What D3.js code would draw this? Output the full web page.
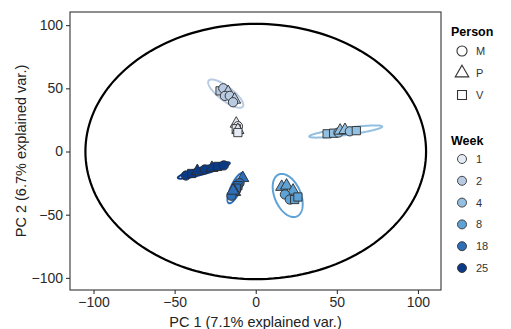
<!DOCTYPE html>
<html>
<head>
<meta charset="utf-8">
<script src="https://cdn.jsdelivr.net/npm/d3@7"></script>
<style>
  body { margin: 0; background: #fff; }
  svg { display: block; font-family: "Liberation Sans", Arial, sans-serif; }
</style>
</head>
<body>
<svg id="chart" width="511" height="329"></svg>
<script>
// tick labels
const xTicks = [-100, -50, 0, 50, 100];
const yTicks = [-100, -50, 0, 50, 100];

// legend categories
const persons = ['M', 'P', 'V'];
const weeks = ['1', '2', '4', '8', '18', '25'];
const weekColors = ['#e6eaf4', '#b9cbe3', '#93bfe0', '#5fa3d6', '#2f6fb8', '#0c3b85'];

// samples per week: [person, PC1, PC2]
const week1 = [['P', -12, 22], ['M', -11, 20], ['V', -12, 18], ['P', -11, 17], ['V', -11, 15]];
const week2 = [['V', -22, 48], ['M', -20, 50], ['P', -17, 47], ['M', -19, 44], ['M', -16, 44], ['P', -13, 41], ['M', -14, 39]];
const week4 = [['V', 44, 14], ['V', 48, 14.5], ['M', 51, 15], ['P', 52, 16.5], ['P', 55, 17], ['M', 58, 16], ['V', 62, 16.5]];
const week8 = [['P', 16, -28], ['P', 19, -27], ['P', 23, -31], ['M', 18, -34], ['M', 21, -38], ['V', 24, -38], ['V', 26, -36]];
const week18 = [['P', -8, -21], ['M', -10, -25], ['V', -11, -27], ['V', -12, -29], ['P', -13, -32], ['M', -15, -35], ['P', -14, -31]];
const week25 = [['M', -43, -19], ['V', -39.5, -17.4], ['P', -36, -15.5], ['M', -31.4, -14.2], ['P', -27, -13], ['V', -23.4, -11.8], ['M', -19.7, -11]];

// group ellipses: centre and two conjugate half-axes, in PC units
const ellipseCenter = [[-11.5, 19], [-18.5, 45.8], [55.5, 15.8], [19.7, -34.8], [-12.3, -29], [-32, -15]];
const ellipseU = [[1, 5], [10.5, -10.3], [22.5, 3.95], [5.55, -16.6], [4.3, 11.85], [16, 5.9]];
const ellipseV = [[-2, 0.5], [-2.65, -4.4], [0.3, -2.76], [-7.4, -4.0], [2.8, -1.66], [0.6, -2.7]];

// correlation circle radii
const circleRadius = [105, 101];

const svg = d3.select('#chart');
const margin = { left: 70, top: 12, right: 441, bottom: 290 };

const x = d3.scaleLinear().domain([-114.5, 114.2]).range([margin.left, margin.right]);
const y = d3.scaleLinear().domain([-109.6, 110.4]).range([margin.bottom, margin.top]);

const shapeOf = { M: d3.symbolCircle, P: d3.symbolTriangle, V: d3.symbolSquare };
const colorOf = d3.scaleOrdinal().domain(weeks).range(weekColors);

// circle
const tt = d3.range(0, 361, 2).map(d => d * Math.PI / 180);
const line = d3.line().x(d => x(d[0])).y(d => y(d[1]));
svg.append('path')
    .attr('d', line(tt.map(t => [circleRadius[0] * Math.cos(t), circleRadius[1] * Math.sin(t)])))
    .attr('fill', 'none')
    .attr('stroke', '#000')
    .attr('stroke-width', 2.2);

// ellipses
weeks.forEach((w, i) => {
    const c = ellipseCenter[i], u = ellipseU[i], v = ellipseV[i];
    const pts = tt.map(t => [c[0] + u[0] * Math.cos(t) + v[0] * Math.sin(t),
                             c[1] + u[1] * Math.cos(t) + v[1] * Math.sin(t)]);
    svg.append('path')
        .attr('d', line(pts))
        .attr('fill', 'none')
        .attr('stroke', colorOf(w))
        .attr('stroke-width', 2);
});

// points
const groups = [week1, week2, week4, week8, week18, week25];
groups.forEach((rows, i) => {
    svg.append('g').selectAll('path')
        .data(rows)
        .enter()
        .append('path')
        .attr('transform', d => `translate(${x(d[1])},${y(d[2])})`)
        .attr('d', d => d3.symbol().type(shapeOf[d[0]]).size(d[0] === 'P' ? 64 : 68)())
        .attr('fill', colorOf(weeks[i]))
        .attr('stroke', '#2b2b2b')
        .attr('stroke-width', 0.9);
});

// panel border
svg.append('rect')
    .attr('x', margin.left)
    .attr('y', margin.top)
    .attr('width', margin.right - margin.left)
    .attr('height', margin.bottom - margin.top)
    .attr('fill', 'none')
    .attr('stroke', '#333')
    .attr('stroke-width', 1.1);

// axes
const xAxis = svg.append('g')
    .attr('transform', `translate(0, ${margin.bottom})`)
    .call(d3.axisBottom(x).tickValues(xTicks).tickSize(4).tickPadding(3));
const yAxis = svg.append('g')
    .attr('transform', `translate(${margin.left}, 0)`)
    .call(d3.axisLeft(y).tickValues(yTicks).tickSize(4).tickPadding(3));
[xAxis, yAxis].forEach(a => {
    a.select('.domain').remove();
    a.selectAll('line').attr('stroke', '#333').attr('stroke-width', 1.1);
    a.selectAll('text')
        .attr('fill', '#2a2a2a')
        .style('font-size', '14px')
        .style('font-family', '"Liberation Sans", Arial, sans-serif');
});

svg.append('text')
    .attr('x', (margin.left + margin.right) / 2)
    .attr('y', 327)
    .attr('text-anchor', 'middle')
    .attr('fill', '#222')
    .style('font-size', '14.5px')
    .text('PC 1 (7.1% explained var.)');

svg.append('text')
    .attr('transform', `translate(26, ${(margin.top + margin.bottom) / 2}) rotate(-90)`)
    .attr('text-anchor', 'middle')
    .attr('fill', '#222')
    .style('font-size', '14.5px')
    .text('PC 2 (6.7% explained var.)');

// legend: Person
const legX = 451;
svg.append('text')
    .attr('x', legX).attr('y', 36)
    .attr('font-weight', 'bold')
    .style('font-size', '12.5px')
    .text('Person');
persons.forEach((p, i) => {
    const cy = 51 + i * 22;
    svg.append('path')
        .attr('transform', `translate(${legX + 11},${cy})`)
        .attr('d', d3.symbol().type(shapeOf[p]).size(80)())
        .attr('fill', 'none')
        .attr('stroke', '#333')
        .attr('stroke-width', 1.1);
    svg.append('text')
        .attr('x', legX + 25).attr('y', cy + 4)
        .attr('fill', '#333')
        .style('font-size', '11px')
        .text(p);
});

// legend: Week
svg.append('text')
    .attr('x', legX).attr('y', 145)
    .attr('font-weight', 'bold')
    .style('font-size', '12.5px')
    .text('Week');
weeks.forEach((w, i) => {
    const cy = 159 + i * 21.8;
    svg.append('circle')
        .attr('cx', legX + 11).attr('cy', cy).attr('r', 4.5)
        .attr('fill', colorOf(w))
        .attr('stroke', '#333')
        .attr('stroke-width', 0.9);
    svg.append('text')
        .attr('x', legX + 25).attr('y', cy + 4)
        .attr('fill', '#333')
        .style('font-size', '11px')
        .text(w);
});
</script>
</body>
</html>
